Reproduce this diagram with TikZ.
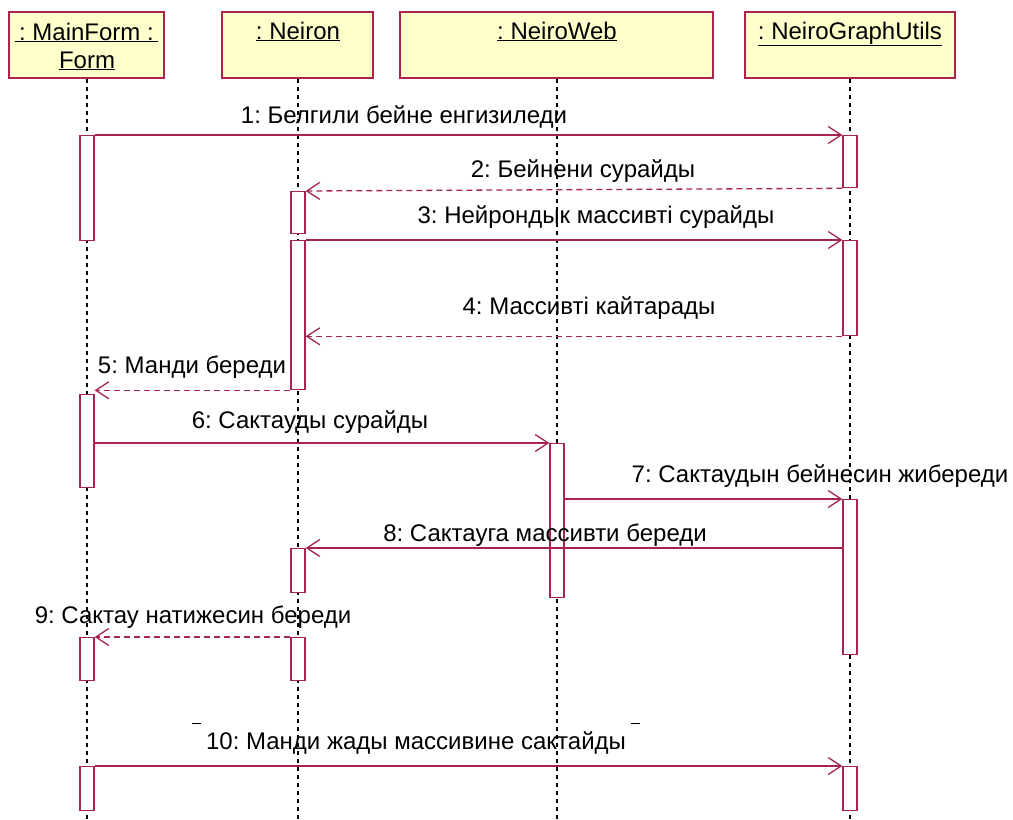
\documentclass[tikz,border=0pt]{standalone}
\usepackage{fontspec}
\setmainfont{Liberation Sans}
\usetikzlibrary{arrows.meta}
\frenchspacing
\definecolor{crim}{RGB}{168,36,78}
\definecolor{objfill}{RGB}{255,255,204}
\tikzset{
  objbox/.style={draw=crim, fill=objfill, line width=1.3pt, inner sep=0pt},
  actbar/.style={draw=crim, fill=white, line width=1.3pt, inner sep=0pt,
                 minimum width=14pt, anchor=north},
  life/.style={black, line width=1.1pt, dash pattern=on 4pt off 4pt},
  msg/.style={crim, line width=1.3pt, -{Straight Barb[length=13pt,width=17pt]}},
  retmsg/.style={msg, dash pattern=on 6pt off 4pt},
  lbl/.style={anchor=base, inner sep=0pt, font=\fontsize{24}{28}\selectfont},
  hdr/.style={anchor=base, inner sep=0pt, font=\fontsize{24}{28}\selectfont},
}
\begin{document}
\begin{tikzpicture}[x=1pt, y=-1pt]
\useasboundingbox (0,0) rectangle (1013,820);

% object boxes
\node[objbox, minimum width=155pt, minimum height=66pt] (mf) at (86.5,45) {};
\node[objbox, minimum width=151pt, minimum height=66pt] (ne) at (297.5,45) {};
\node[objbox, minimum width=313pt, minimum height=66pt] (nw) at (556.5,45) {};
\node[objbox, minimum width=210pt, minimum height=66pt] (ng) at (850,45) {};

\node[hdr] (mfT1) at (86.5,40) {\underline{\,: MainForm :\,}};
\node[hdr] (mfT2) at (87,68) {\underline{Form}};
\node[hdr] (neT) at (298,39) {\underline{: Neiron}};
\node[hdr] (nwT) at (557,39) {\underline{: NeiroWeb}};
\node[hdr] (ngT) at (850,39) {\underline{: NeiroGraphUtils}};

% lifelines
\coordinate (mfE) at (87,820);
\coordinate (neE) at (298,820);
\coordinate (nwE) at (557,820);
\coordinate (ngE) at (850,820);
\draw[life] (mf.south -| mfE) -- (mfE);
\draw[life] (ne.south -| neE) -- (neE);
\draw[life] (nw.south -| nwE) -- (nwE);
\draw[life] (ng.south -| ngE) -- (ngE);

% activation bars
\node[actbar, minimum height=105pt] (mA1) at (87,135) {};
\node[actbar, minimum height=93pt]  (mA2) at (87,394) {};
\node[actbar, minimum height=43pt]  (mA3) at (87,637) {};
\node[actbar, minimum height=44pt]  (mA4) at (87,766) {};
\node[actbar, minimum height=42pt]  (nA1) at (298,191) {};
\node[actbar, minimum height=149pt] (nA2) at (298,240) {};
\node[actbar, minimum height=44pt]  (nA3) at (298,548) {};
\node[actbar, minimum height=43pt]  (nA4) at (298,637) {};
\node[actbar, minimum height=154pt] (wA1) at (557,443) {};
\node[actbar, minimum height=52pt]  (gA1) at (850,135) {};
\node[actbar, minimum height=95pt]  (gA2) at (850,240) {};
\node[actbar, minimum height=155pt] (gA3) at (850,499) {};
\node[actbar, minimum height=44pt]  (gA4) at (850,766) {};

% messages
\draw[msg] (mA1.north east) -- (gA1.north west);
\draw[retmsg] (gA1.south west) -- (nA1.north east);
\draw[msg] (nA2.north east) -- (gA2.north west);
\draw[retmsg] (gA2.south west) -- (nA2.east |- gA2.south);
\draw[retmsg] (nA2.south west) -- (mA2.east |- nA2.south);
\draw[msg] (mA2.east |- wA1.north) -- (wA1.north west);
\draw[msg] (wA1.east |- gA3.north) -- (gA3.north west);
\draw[msg] (gA3.west |- nA3.north) -- (nA3.north east);
\draw[retmsg] (nA4.north west) -- (mA3.north east);
\draw[msg] (mA4.north east) -- (gA4.north west);

% message labels
\node[lbl] (l1) at (404,123) {1: Белгили бейне енгизиледи};
\node[lbl] (l2) at (583,177) {2: Бейнени сурайды};
\node[lbl] (l3) at (596,223) {3: Нейрондык массивті сурайды};
\node[lbl] (l4) at (589,314) {4: Массивті кайтарады};
\node[lbl] (l5) at (192,373) {5: Манди береди};
\node[lbl] (l6) at (310,428) {6: Сактауды сурайды};
\node[lbl] (l7) at (820,482) {7: Сактаудын бейнесин жибереди};
\node[lbl] (l8) at (545,541) {8: Сактауга массивти береди};
\node[lbl] (l9) at (193,623) {9: Сактау натижесин береди};
\node[lbl] (l10) at (416,749) {10: Манди жады массивине сактайды};

% stray tick marks above message 10
\draw[black, line width=1pt] (192,723) -- (201,723);
\draw[black, line width=1pt] (631,723) -- (640,723);
\end{tikzpicture}
\end{document}
